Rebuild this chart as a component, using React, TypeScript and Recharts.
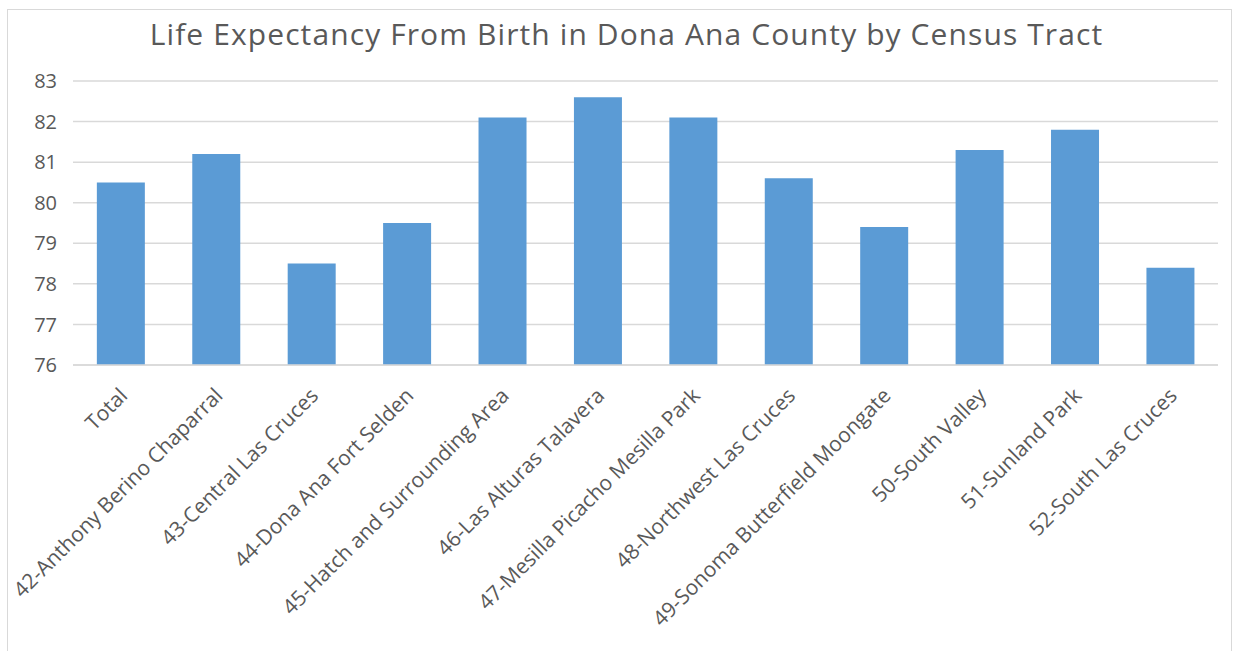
import React from 'react';
import { BarChart, Bar, XAxis, YAxis, CartesianGrid } from 'recharts';

const tracts = [
  'Total',
  '42-Anthony Berino Chaparral',
  '43-Central Las Cruces',
  '44-Dona Ana Fort Selden',
  '45-Hatch and Surrounding Area',
  '46-Las Alturas Talavera',
  '47-Mesilla Picacho Mesilla Park',
  '48-Northwest Las Cruces',
  '49-Sonoma Butterfield Moongate',
  '50-South Valley',
  '51-Sunland Park',
  '52-South Las Cruces',
];

const lifeExpectancy = [80.5, 81.2, 78.5, 79.5, 82.1, 82.6, 82.1, 80.6, 79.4, 81.3, 81.8, 78.4];

const yTicks = [76, 77, 78, 79, 80, 81, 82, 83];

const data = tracts.map((name, i) => ({ name, value: lifeExpectancy[i] }));

const FONT = '"Open Sans", "Segoe UI", sans-serif';
const TEXT = '#595959';

// category labels slanted at 45 degrees, ending just under each bar
const TractTick = (props: any) => {
  const { x, y, payload } = props;
  const ax = x + 8;
  const ay = y + 24;
  return (
    <text
      x={ax}
      y={ay}
      transform={`rotate(-45, ${ax}, ${ay})`}
      textAnchor="end"
      fontSize={21}
      fontFamily={FONT}
      fill={TEXT}
    >
      {payload.value}
    </text>
  );
};

const App: React.FC = () => {
  return (
    <div style={{ position: 'absolute', left: 0, top: 0, width: 1241, height: 651, background: '#fff' }}>
      <div
        style={{
          position: 'absolute',
          left: 7,
          top: 9,
          width: 1225,
          height: 660,
          border: '1px solid #d9d9d9',
          boxSizing: 'border-box',
        }}
      />
      <div
        style={{
          position: 'absolute',
          left: 0,
          top: 14,
          width: 1253,
          textAlign: 'center',
          fontFamily: FONT,
          fontSize: 30,
          letterSpacing: 1.1,
          color: TEXT,
          lineHeight: '40px',
        }}
      >
        Life Expectancy From Birth in Dona Ana County by Census Tract
      </div>
      <div style={{ position: 'absolute', left: 0, top: 0 }}>
        <BarChart
          width={1241}
          height={651}
          data={data}
          margin={{ top: 81, right: 23, left: 0, bottom: 6 }}
          barCategoryGap="25%"
        >
          <CartesianGrid vertical={false} stroke="#d9d9d9" strokeWidth={1.5} />
          <XAxis
            dataKey="name"
            interval={0}
            height={280}
            tickLine={false}
            axisLine={{ stroke: '#d9d9d9', strokeWidth: 1.5 }}
            tick={<TractTick />}
          />
          <YAxis
            width={73}
            domain={[76, 83]}
            ticks={yTicks}
            allowDataOverflow
            tickLine={false}
            axisLine={false}
            tickSize={0}
            tickMargin={16}
            tick={{ fontSize: 20, fontFamily: FONT, fill: TEXT }}
          />
          <Bar dataKey="value" fill="#5b9bd5" isAnimationActive={false} />
        </BarChart>
      </div>
    </div>
  );
};

export default App;
